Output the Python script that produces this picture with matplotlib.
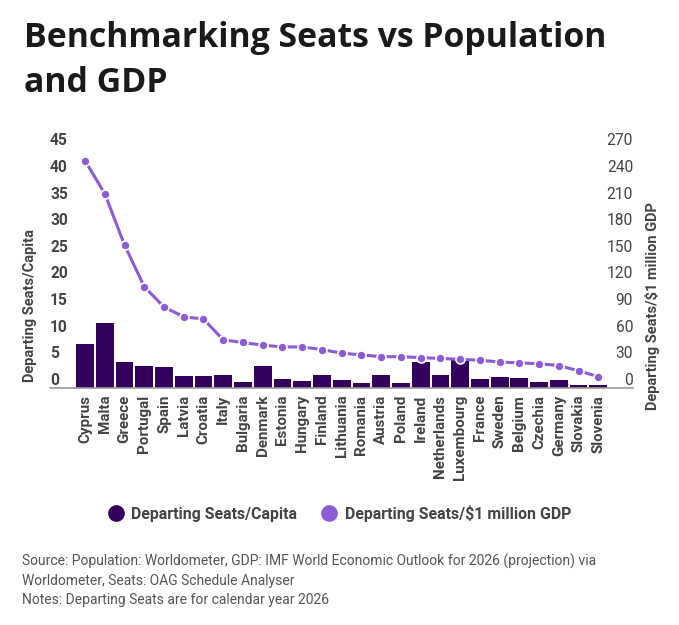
import matplotlib.pyplot as plt
from matplotlib.lines import Line2D

plt.rcParams['font.family'] = ['Roboto', 'DejaVu Sans']

countries = ["Cyprus", "Malta", "Greece", "Portugal", "Spain", "Latvia", "Croatia",
             "Italy", "Bulgaria", "Denmark", "Estonia", "Hungary", "Finland",
             "Lithuania", "Romania", "Austria", "Poland", "Ireland", "Netherlands",
             "Luxembourg", "France", "Sweden", "Belgium", "Czechia", "Germany",
             "Slovakia", "Slovenia"]
seats_per_capita = [8.2, 12.2, 4.8, 4.1, 3.9, 2.2, 2.2, 2.4, 1.1, 4.1, 1.6, 1.3, 2.4,
                    1.45, 0.9, 2.4, 0.95, 4.8, 2.4, 5.3, 1.65, 2.0, 1.8, 1.1, 1.45,
                    0.5, 0.5]
seats_per_gdp = [256, 219, 161, 114, 91, 80, 77.5, 54, 51, 48, 46, 46, 43, 39, 37,
                 35, 35, 34, 33, 32, 31, 29, 28, 27, 25, 19, 12.5]
left_ticks = list(range(0, 46, 5))
right_ticks = list(range(0, 271, 30))

BAR = "#33005e"
LINE = "#8b5cd6"
GREY = "#444444"

W, H = 679, 625
fig = plt.figure(figsize=(W / 100, H / 100), dpi=100)

# plot area in pixels (top-origin): x 72..610, y 148.4..387.7
x0, x1, ytop, ybot = 72, 610, 148.4, 387.7
ax = fig.add_axes([x0 / W, 1 - ybot / H, (x1 - x0) / W, (ybot - ytop) / H])
x = list(range(len(countries)))
ax.bar(x, seats_per_capita, width=0.9, color=BAR, zorder=2)
ax.set_xlim(-0.66, len(countries) - 1 + 0.59)
ax.set_ylim(0, 45)
ax.set_yticks(left_ticks)
ax.set_yticklabels([str(t) for t in left_ticks], fontsize=11.2, fontweight="bold",
                   color=GREY, ha="left", va="bottom")
ax.tick_params(axis="y", length=0, pad=15.8)
ax.set_xticks(x)
ax.set_xticklabels(countries, rotation=90, fontsize=10.9, fontweight="bold",
                   color=GREY, va="top", ha="center")
ax.tick_params(axis="x", length=0, pad=5)
for s in ax.spines.values():
    s.set_visible(False)

ax2 = ax.twinx()
ax2.plot(x, seats_per_gdp, color=LINE, lw=2.2, marker="o", markersize=6.5,
         markerfacecolor=LINE, markeredgecolor="white", markeredgewidth=1.2,
         zorder=3)
ax2.set_ylim(0, 270)
ax2.set_yticks(right_ticks)
ax2.set_yticklabels([str(t) for t in right_ticks], fontsize=11.2, color=GREY,
                    ha="right", va="bottom")
ax2.tick_params(axis="y", length=0, pad=16.6)
for s in ax2.spines.values():
    s.set_visible(False)

# baseline running under the tick labels
fig.add_artist(Line2D([50 / W, 633 / W], [1 - ybot / H] * 2, transform=fig.transFigure,
                      color="#9a9a9a", lw=1.2))

fig.text(30 / W, 1 - 306 / H, "Departing Seats/Capita", rotation=90, fontsize=10.5,
         fontweight="bold", color=GREY, ha="center", va="center")
fig.text(652 / W, 1 - 306 / H, "Departing Seats/$1 million GDP", rotation=90,
         fontsize=10.5, fontweight="bold", color=GREY, ha="center", va="center")

# title, two lines
title_font = dict(fontsize=24.4, fontweight="bold", color="#1a1a1a", ha="left",
                  va="baseline", family=["Open Sans", "DejaVu Sans"])
fig.text(24 / W, 1 - 47 / H, "Benchmarking Seats vs Population", **title_font)
fig.text(24 / W, 1 - 92 / H, "and GDP", **title_font)

handles = [Line2D([], [], ls="none", marker="o", markersize=11, color=BAR),
           Line2D([], [], ls="none", marker="o", markersize=11, color=LINE)]
leg = fig.legend(handles, ["Departing Seats/Capita", "Departing Seats/$1 million GDP"],
                 loc="center", bbox_to_anchor=(0.5, 1 - 513 / H), ncol=2, frameon=False,
                 handlelength=1.0, handletextpad=0.5, columnspacing=1.5,
                 prop={"size": 11.4, "weight": "bold"})
for t in leg.get_texts():
    t.set_color(GREY)

notes = ("Source: Population: Worldometer, GDP: IMF World Economic Outlook for 2026 (projection) via\n"
         "Worldometer, Seats: OAG Schedule Analyser\n"
         "Notes: Departing Seats are for calendar year 2026")
fig.text(22 / W, 1 - 554 / H, notes, fontsize=10.0, color="#555555", ha="left", va="top",
         linespacing=1.45)

fig.savefig("out.png", dpi=100)
